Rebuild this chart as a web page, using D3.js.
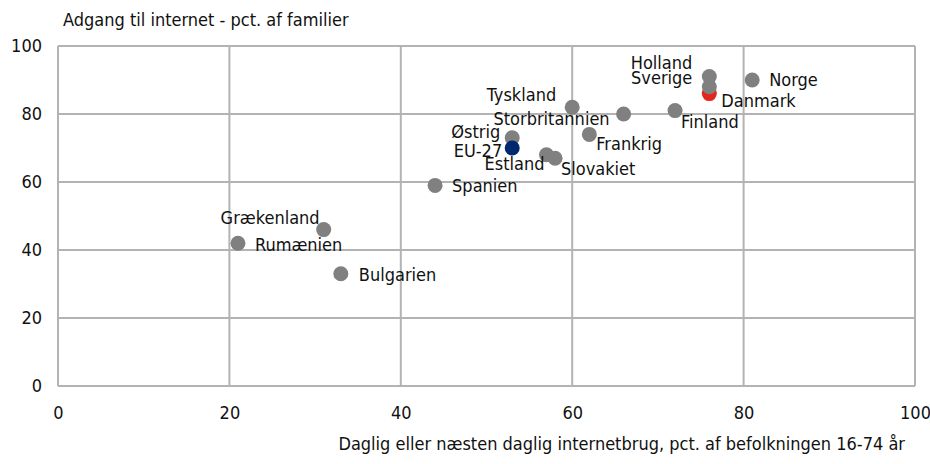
<!DOCTYPE html>
<html>
<head>
<meta charset="utf-8">
<script src="https://cdn.jsdelivr.net/npm/d3@7"></script>
<style>
  body { margin: 0; background: #fff; }
  svg text { font-family: "Liberation Sans Narrow", "DejaVu Sans Condensed", "Noto Sans", sans-serif; font-size: 18px; fill: #111; }
</style>
</head>
<body>
<div id="chart"></div>
<script>
var width = 930;
var height = 464;

// data
var countries = ["Danmark", "Norge", "Holland", "Sverige", "Finland", "Storbritannien", "Tyskland",
                 "Frankrig", "Østrig", "Estland", "Slovakiet", "Spanien", "Grækenland", "Rumænien",
                 "Bulgarien", "EU-27"];
var dailyUse = [76, 81, 76, 76, 72, 66, 60, 62, 53, 57, 58, 44, 31, 21, 33, 53];
var access   = [86, 90, 91, 88, 81, 80, 82, 74, 73, 68, 67, 59, 46, 42, 33, 70];
var xTicks = [0, 20, 40, 60, 80, 100];
var yTicks = [0, 20, 40, 60, 80, 100];

// where each label sits relative to its dot (px)
var labelPos = {
  "Norge": [17, 0, "start"],
  "Holland": [-17, -14, "end"],
  "Sverige": [-17, -9, "end"],
  "Danmark": [12, 7, "start"],
  "Finland": [6, 11, "start"],
  "Storbritannien": [-14, 5, "end"],
  "Tyskland": [-16, -13, "end"],
  "Frankrig": [7, 9, "start"],
  "Østrig": [-12, -6, "end"],
  "EU-27": [-10, 3, "end"],
  "Estland": [-2, 9, "end"],
  "Slovakiet": [6, 10, "start"],
  "Spanien": [17, 0, "start"],
  "Grækenland": [-4, -12, "end"],
  "Rumænien": [17, 1, "start"],
  "Bulgarien": [18, 1, "start"]
};

var data = countries.map(function(c, i) {
  return {name: c, x: dailyUse[i], y: access[i]};
});

var margin = {top: 46, right: 15, bottom: 78, left: 58};

var svg = d3.select("#chart")
            .append("svg")
            .attr("width", width)
            .attr("height", height);

var x_scale = d3.scaleLinear()
                .domain([0, 100])
                .range([margin.left, width - margin.right]);

var y_scale = d3.scaleLinear()
                .domain([0, 100])
                .range([height - margin.bottom, margin.top]);

//Grid lines
svg.append("g")
   .selectAll("line")
   .data(xTicks)
   .enter().append("line")
   .attr("x1", d => x_scale(d)).attr("x2", d => x_scale(d))
   .attr("y1", y_scale(0)).attr("y2", y_scale(100))
   .style("stroke", "#b3b3b3")
   .style("stroke-width", 2);

svg.append("g")
   .selectAll("line")
   .data(yTicks)
   .enter().append("line")
   .attr("x1", x_scale(0)).attr("x2", x_scale(100))
   .attr("y1", d => y_scale(d)).attr("y2", d => y_scale(d))
   .style("stroke", "#b3b3b3")
   .style("stroke-width", 2);

//Axes, lines hidden, labels only
var xAxis = svg.append("g")
   .attr("transform", "translate(0," + y_scale(0) + ")")
   .call(d3.axisBottom(x_scale).tickValues(xTicks).tickSize(0).tickPadding(20));
xAxis.select(".domain").remove();
xAxis.selectAll("text").attr("font-family", null).attr("font-size", null);

var yAxis = svg.append("g")
   .attr("transform", "translate(" + x_scale(0) + ",0)")
   .call(d3.axisLeft(y_scale).tickValues(yTicks).tickSize(0).tickPadding(16));
yAxis.select(".domain").remove();
yAxis.selectAll("text").attr("font-family", null).attr("font-size", null);

//Titles
svg.append("text")
   .attr("x", 63)
   .attr("y", 26)
   .text("Adgang til internet - pct. af familier");

svg.append("text")
   .attr("x", 905)
   .attr("y", 450)
   .style("text-anchor", "end")
   .text("Daglig eller næsten daglig internetbrug, pct. af befolkningen 16-74 år");

//Dots
function dotColor(name) {
  if (name == "Danmark") return "#e3261b";
  if (name == "EU-27") return "#00286e";
  return "#808080";
}

svg.append("g")
   .selectAll("circle")
   .data(data)
   .enter().append("circle")
   .attr("cx", d => x_scale(d.x))
   .attr("cy", d => y_scale(d.y))
   .attr("r", 7.5)
   .style("fill", d => dotColor(d.name));

//Labels
svg.append("g")
   .selectAll("text")
   .data(data)
   .enter().append("text")
   .attr("x", d => x_scale(d.x) + labelPos[d.name][0])
   .attr("y", d => y_scale(d.y) + labelPos[d.name][1])
   .attr("dy", "0.35em")
   .style("text-anchor", d => labelPos[d.name][2])
   .text(d => d.name);
</script>
</body>
</html>
